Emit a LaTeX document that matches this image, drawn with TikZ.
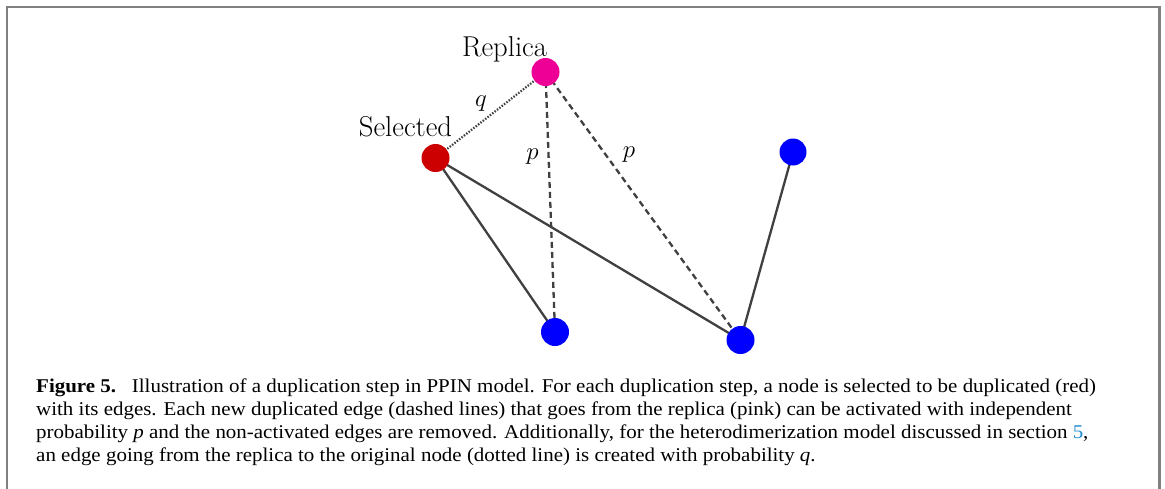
\documentclass[tikz,border=0pt]{standalone}
\usepackage{fontspec}
\newfontfamily\capfont[FakeStretch=1.075]{Liberation Serif}
\usetikzlibrary{calc}

\definecolor{framegray}{RGB}{128,128,128}
\definecolor{edgegray}{RGB}{64,64,64}
\definecolor{selred}{RGB}{204,0,0}
\definecolor{reppink}{RGB}{238,0,150}
\definecolor{netblue}{RGB}{0,0,255}
\definecolor{linkblue}{RGB}{30,140,210}

\tikzset{
  vertex/.style={circle, inner sep=0pt, minimum size=28pt, draw=none},
  edge/.style={draw=edgegray, line width=2.3pt},
  dupedge/.style={edge, dash pattern=on 6pt off 4pt},
  replink/.style={edge, line width=2.2pt, dash pattern=on 1.5pt off 1.5pt},
  lbl/.style={font=\fontsize{28.7}{32}\selectfont, inner sep=0pt},
  caption/.style={font=\capfont\fontsize{19.5}{23}\selectfont, inner sep=0pt, anchor=base west}
}

\begin{document}
\begin{tikzpicture}[x=1pt, y=-1pt]
  \useasboundingbox (0,0) rectangle (1165,488);
  \fill[white] (0,0) rectangle (1165,488);

  % open frame around the figure
  \draw[framegray, line width=2pt] (6.5,490) -- (6.5,7) -- (1159,7);
  \draw[framegray, line width=3pt] (1159.5,6) -- (1159.5,490);

  % vertex positions
  \coordinate (pSel) at (435.5,158);
  \coordinate (pRep) at (545.5,72);
  \coordinate (pB1)  at (555,332);
  \coordinate (pB2)  at (740.5,340);
  \coordinate (pB3)  at (793,152);

  % edges, drawn beneath the vertices
  \draw[replink] (pSel) -- (pRep);
  \draw[dupedge] (pRep) -- (pB1);
  \draw[dupedge] (pRep) -- (pB2);
  \draw[edge] (pSel) -- (pB1);
  \draw[edge] (pSel) -- (pB2);
  \draw[edge] (pB3) -- (pB2);

  \node[vertex, fill=selred]  (sel) at (pSel) {};
  \node[vertex, fill=reppink] (rep) at (pRep) {};
  \node[vertex, fill=netblue] (b1)  at (pB1) {};
  \node[vertex, fill=netblue] (b2)  at (pB2) {};
  \node[vertex, fill=netblue, minimum size=27pt] (b3) at (pB3) {};

  % vertex and edge labels
  \node[lbl, anchor=base] (repl) at (504.5,56.5) {Replica};
  \node[lbl, anchor=base] (sell) at (405.5,136) {Selected};
  \node[lbl] (ql)  at (481,104) {$q$};
  \node[lbl] (pl1) at (532.5,157) {$p$};
  \node[lbl] (pl2) at (629,155) {$p$};

  % caption
  \node[caption] (c1) at (36,392) {\textbf{Figure 5.}\hspace{0.45em} Illustration of a duplication step in PPIN model. For each duplication step, a node is selected to be duplicated (red)};
  \node[caption] (c2) at (36,415) {with its edges. Each new duplicated edge (dashed lines) that goes from the replica (pink) can be activated with independent};
  \node[caption] (c3) at (36,438) {probability \textit{p} and the non-activated edges are removed. Additionally, for the heterodimerization model discussed in section \textcolor{linkblue}{5},};
  \node[caption] (c4) at (36,461) {an edge going from the replica to the original node (dotted line) is created with probability \textit{q}.};
\end{tikzpicture}
\end{document}
